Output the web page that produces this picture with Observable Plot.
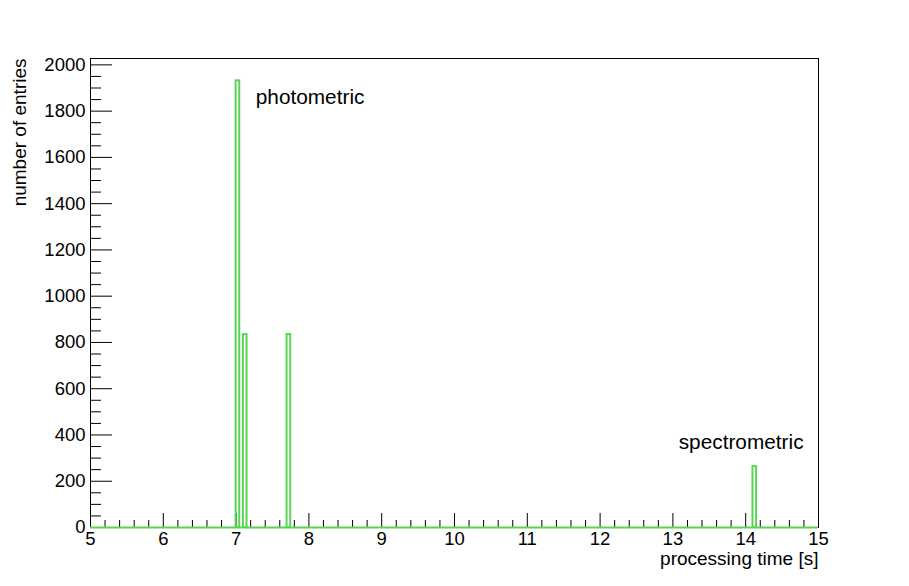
<!DOCTYPE html>
<html>
<head>
<meta charset="utf-8">
<script src="https://cdn.jsdelivr.net/npm/d3@7"></script>
<script src="https://cdn.jsdelivr.net/npm/@observablehq/plot@0.6"></script>
<style>
  html, body { margin: 0; padding: 0; background: #ffffff; }
  #chart svg { display: block; font-family: "Liberation Sans", Arial, Helvetica, sans-serif; }
</style>
</head>
<body>
<div id="chart"></div>
<script>
// ---- data ----
const binWidth = 0.05;                       // seconds per bin
const binStarts = [7.0, 7.1, 7.7, 14.1];     // lower edges of non-empty bins
const binCounts = [1931, 834, 834, 263];     // entries in those bins
const xRange = [5, 15];
const xMajorTicks = [5, 6, 7, 8, 9, 10, 11, 12, 13, 14, 15];
const yMajorTicks = [0, 200, 400, 600, 800, 1000, 1200, 1400, 1600, 1800, 2000];
const annotationLabels = ["photometric", "spectrometric"];
const annotationX = [7.27, 13.08];
const annotationY = [1860, 370];
const xTitle = "processing time [s]";
const yTitle = "number of entries";

// ---- build tables ----
const bins = binStarts.map((s, i) => ({x1: s, x2: s + binWidth, count: binCounts[i]}));
const annotations = annotationLabels.map((t, i) => ({text: t, x: annotationX[i], y: annotationY[i]}));
const xMinorTicks = d3.range(xRange[0], xRange[1] + 1e-9, 0.2).map(v => +v.toFixed(2)).filter(v => !xMajorTicks.includes(v));
const yMinorTicks = d3.range(0, 2001, 50).filter(v => !yMajorTicks.includes(v));
const yMax = 1.05 * d3.max(binCounts);

const W = 909, H = 586;
const mL = 90, mR = 91, mT = 58, mB = 59;
const frameW = W - mL - mR, frameH = H - mT - mB;
const green = "#59d454";
const font = "'Liberation Sans', Arial, Helvetica, sans-serif";

const chart = Plot.plot({
  width: W,
  height: H,
  marginLeft: mL,
  marginRight: mR,
  marginTop: mT,
  marginBottom: mB,
  style: {fontFamily: font, background: "#ffffff", color: "#000"},
  x: {domain: xRange},
  y: {domain: [0, yMax]},
  marks: [
    Plot.frame({stroke: "black", strokeWidth: 1}),
    // inward ticks
    Plot.ruleX(xMajorTicks, {stroke: "black", insetTop: frameH - 14}),
    Plot.ruleX(xMinorTicks, {stroke: "black", insetTop: frameH - 7}),
    Plot.ruleY(yMajorTicks, {stroke: "black", insetRight: frameW - 22}),
    Plot.ruleY(yMinorTicks, {stroke: "black", insetRight: frameW - 11}),
    Plot.axisX({ticks: xMajorTicks, tickSize: 0, tickPadding: 4, fontSize: 18.5, label: null, tickFormat: d => String(d)}),
    Plot.axisY({ticks: yMajorTicks, tickSize: 0, tickPadding: 5, fontSize: 18.5, label: null, tickFormat: d => String(d)}),
    // histogram outline
    Plot.ruleY([0], {stroke: green, strokeWidth: 2}),
    Plot.rect(bins, {x1: "x1", x2: "x2", y1: 0, y2: "count", stroke: green, strokeWidth: 2, fill: "none"}),
    // annotations
    Plot.text(annotations, {x: "x", y: "y", text: "text", textAnchor: "start", fontSize: 20.8, fill: "black"}),
    // axis titles
    Plot.text([xTitle], {frameAnchor: "bottom-right", textAnchor: "end", dy: 37, fontSize: 19, fill: "black"}),
    Plot.text([yTitle], {frameAnchor: "top-left", textAnchor: "end", rotate: -90, dx: -78, fontSize: 19, fill: "black"})
  ]
});
document.getElementById("chart").appendChild(chart);
</script>
</body>
</html>
